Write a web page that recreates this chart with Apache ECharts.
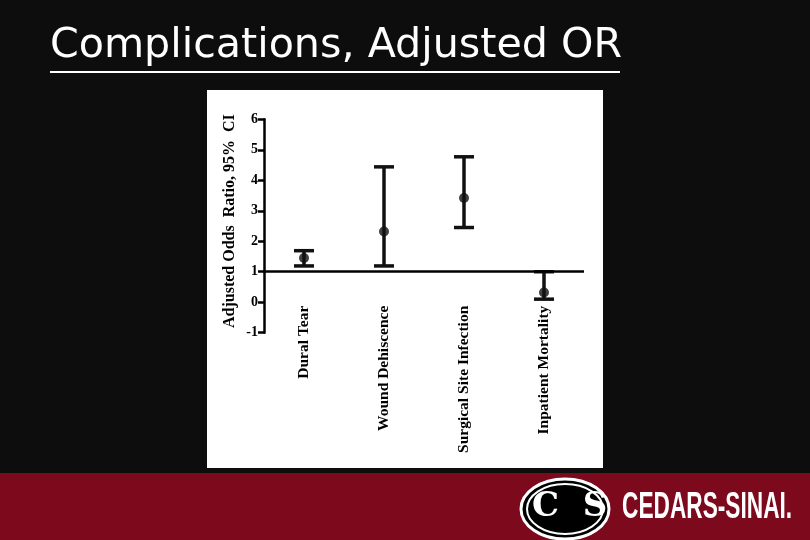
<!DOCTYPE html><html><head><meta charset="utf-8"><script src="https://cdn.jsdelivr.net/npm/echarts@6/dist/echarts.min.js"></script>
<style>body{margin:0;background:#0d0d0d}#c{width:810px;height:540px}</style></head><body><div id="c"></div><script>
const categories=['Dural Tear','Wound Dehiscence','Surgical Site Infection','Inpatient Mortality'];
const oddsRatio=[1.45,2.32,3.42,0.32];
const ciLow=[1.19,1.19,2.45,0.1];
const ciHigh=[1.69,4.44,4.77,1.0];
const yTicks=[-1,0,1,2,3,4,5,6];
const ch=echarts.init(document.getElementById('c'));
const serif='"Liberation Serif","DejaVu Serif",serif';
ch.setOption({
 backgroundColor:'#0d0d0d',
 graphic:[
  {type:'rect',z:-10,shape:{x:207,y:90,width:396,height:378},style:{fill:'#fff'}},
  {type:'text',x:50,y:27,scaleX:1.03,style:{text:'Complications, Adjusted OR',fill:'#fff',font:'40px "DejaVu Sans",sans-serif'}},
  {type:'rect',shape:{x:50,y:71,width:570,height:2},style:{fill:'#fff'}},
  {type:'rect',shape:{x:0,y:473,width:810,height:67},style:{fill:'#7d0a1c'}},
  {type:'ellipse',shape:{cx:565,cy:509,rx:44,ry:30},style:{fill:'#000',stroke:'#fff',lineWidth:3}},
  {type:'ellipse',shape:{cx:565,cy:509,rx:38,ry:25},style:{fill:'none',stroke:'#fff',lineWidth:2}},
  {type:'text',x:532,y:490,style:{text:'C  S',fill:'#fff',font:'bold 34px "DejaVu Serif",serif'}},
  {type:'text',x:622,y:490,scaleX:0.63,style:{text:'CEDARS-SINAI.',fill:'#fff',font:'bold 36px "Liberation Sans",sans-serif'}},
  {type:'text',rotation:Math.PI/2,x:222,y:328,style:{text:'Adjusted Odds  Ratio, 95%  CI',fill:'#000',font:'bold 16px '+serif}}
 ],
 grid:{left:264,top:119.3,width:320,height:213.4},
 xAxis:{type:'category',data:categories,boundaryGap:true,axisLine:{show:false},axisTick:{show:false},
  axisLabel:{rotate:90,margin:-27,color:'#000',fontFamily:serif,fontWeight:'bold',fontSize:15.5,align:'right',verticalAlign:'middle'}},
 yAxis:{type:'value',min:-1,max:6,interval:1,splitLine:{show:false},
  axisLine:{show:true,lineStyle:{color:'#000',width:2.5}},axisTick:{show:true,length:6,lineStyle:{color:'#000',width:2.5}},
  axisLabel:{color:'#000',fontFamily:serif,fontWeight:'bold',fontSize:14,margin:6,formatter:v=>yTicks.includes(v)?String(v):''}},
 series:[
  {type:'custom',data:categories.map((c,i)=>[i,ciLow[i],ciHigh[i]]),
   renderItem:(p,api)=>{const lo=api.coord([api.value(0),api.value(1)]),hi=api.coord([api.value(0),api.value(2)]);const w=10;
    const s={stroke:'#111',lineWidth:3.5};
    return {type:'group',children:[
     {type:'line',shape:{x1:lo[0],y1:lo[1],x2:hi[0],y2:hi[1]},style:s},
     {type:'line',shape:{x1:lo[0]-w,y1:lo[1],x2:lo[0]+w,y2:lo[1]},style:s},
     {type:'line',shape:{x1:hi[0]-w,y1:hi[1],x2:hi[0]+w,y2:hi[1]},style:s}]};}},
  {type:'scatter',data:oddsRatio,symbol:'circle',symbolSize:10,itemStyle:{color:'#111'},z:5,
   markLine:{silent:true,symbol:'none',label:{show:false},lineStyle:{color:'#000',width:2.5,type:'solid'},data:[{yAxis:1}]}},
 ]
});
</script></body></html>
